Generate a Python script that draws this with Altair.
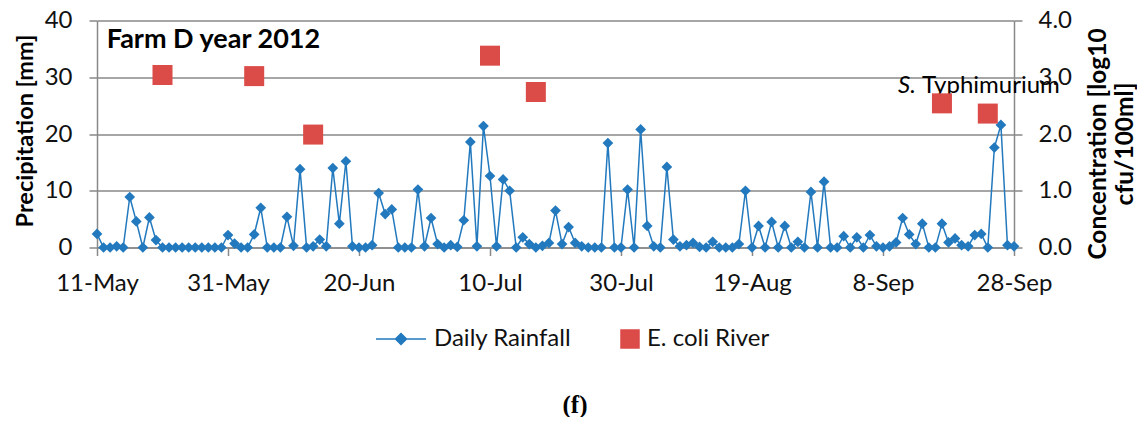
import altair as alt
import pandas as pd

# ---------------- data ----------------
START = "2012-05-11"
END = "2012-09-28"

rain = [
    2.4, 0, 0, 0.2, 0, 8.9, 4.6, 0, 5.3, 1.3,
    0, 0, 0, 0, 0, 0, 0, 0, 0, 0,
    2.2, 0.7, 0, 0, 2.3, 7.0, 0, 0, 0, 5.4,
    0.3, 13.8, 0, 0.2, 1.4, 0.2, 14.0, 4.2, 15.2, 0.2,
    0, 0, 0.4, 9.6, 5.9, 6.7, 0, 0, 0, 10.2,
    0.2, 5.2, 0.6, 0, 0.4, 0.1, 4.8, 18.6, 0.2, 21.4,
    12.6, 0.2, 12.0, 10.0, 0, 1.8, 0.6, 0, 0.3, 0.8,
    6.5, 0.6, 3.6, 0.8, 0.2, 0, 0, 0, 18.4, 0,
    0, 10.2, 0, 20.8, 3.8, 0.2, 0, 14.2, 1.4, 0.2,
    0.4, 0.8, 0.1, 0, 1.0, 0, 0, 0, 0.6, 10.0,
    0, 3.8, 0, 4.5, 0, 3.8, 0, 1.0, 0, 9.8,
    0, 11.6, 0, 0, 2.0, 0, 1.8, 0, 2.2, 0.2,
    0, 0.2, 0.9, 5.2, 2.3, 0.6, 4.2, 0, 0, 4.2,
    0.9, 1.6, 0.4, 0.2, 2.2, 2.4, 0, 17.6, 21.6, 0.4,
    0.2,
]

ecoli_dates = ["2012-05-21", "2012-06-04", "2012-06-13", "2012-07-10",
               "2012-07-17", "2012-09-17", "2012-09-24"]
ecoli_vals = [3.04, 3.02, 1.99, 3.38, 2.74, 2.54, 2.36]

tick_dates = ["2012-05-11", "2012-05-31", "2012-06-20", "2012-07-10",
              "2012-07-30", "2012-08-19", "2012-09-08", "2012-09-28"]
left_ticks = [0, 10, 20, 30, 40]
right_ticks = [0, 1, 2, 3, 4]

series = ["Daily Rainfall", "E. coli River"]
series_colors = ["#2279be", "#db4b48"]
legend_shapes = ["M-1,0H1M0,-0.22L0.22,0L0,0.22L-0.22,0Z",
                 "M0.28,-0.36H1V0.36H0.28Z"]

left_title = "Precipitation [mm]"
right_title = ["Concentration [log10", "cfu/100ml]"]
panel_title = ["Farm D year 2012"]
anno_italic = ["S."]
anno_regular = ["Typhimurium"]
panel_letter = ["(f)"]

FONT = "Lato"
GREY = "#888888"


def dt(s):
    y, m, d = (int(v) for v in s.split("-"))
    return alt.DateTime(year=y, month=m, date=d, utc=True)


rain_df = pd.DataFrame({
    "date": pd.date_range(START, periods=len(rain), freq="D").strftime("%Y-%m-%d"),
    "rain": rain,
})
ecoli_df = pd.DataFrame({"date": ecoli_dates, "conc": ecoli_vals})
legend_df = pd.DataFrame({"series": series})

x_enc = alt.X(
    "date:T",
    scale=alt.Scale(type="utc", domain=[dt(START), dt(END)], nice=False),
    axis=alt.Axis(
        values=[dt(s) for s in tick_dates], format="%-d-%b", title=None,
        grid=False, tickSize=8, labelPadding=16, domain=True,
        labelFlush=False, labelOverlap=False,
    ),
)

rain_line = alt.Chart(rain_df).mark_line(
    color=series_colors[0], strokeWidth=1.5
).encode(
    x=x_enc,
    y=alt.Y(
        "rain:Q",
        scale=alt.Scale(domain=[0, 40], nice=False),
        axis=alt.Axis(
            values=left_ticks, title=left_title, grid=True,
            tickSize=8, labelPadding=17, orient="left",
            titleFontWeight="bold", titleFontSize=23.5,
            titleX=-65, titleY=110, titleAngle=270,
            titleAlign="center", titleBaseline="alphabetic",
        ),
    ),
)

rain_pts = alt.Chart(rain_df).mark_point(
    shape="diamond", filled=True, size=115, color=series_colors[0], opacity=1
).encode(x=x_enc, y="rain:Q")

leg = alt.Legend(
    title=None, orient="none", legendX=278, legendY=292.5, direction="horizontal",
    symbolSize=2500, symbolStrokeWidth=1.5, symbolOpacity=1,
    labelFont=FONT, labelFontSize=24, labelColor="#111111", labelOffset=7,
    columnPadding=16, padding=0, labelLimit=400,
)

legend_layer = alt.Chart(legend_df).mark_point(
    filled=True, opacity=0, size=2500
).encode(
    fill=alt.Fill("series:N", scale=alt.Scale(domain=series, range=series_colors), legend=leg),
    stroke=alt.Stroke("series:N", scale=alt.Scale(domain=series, range=series_colors), legend=leg),
    shape=alt.Shape("series:N", scale=alt.Scale(domain=series, range=legend_shapes), legend=leg),
)

title_txt = alt.Chart(pd.DataFrame({"t": panel_title})).mark_text(
    font=FONT, fontSize=27, fontWeight="bold", align="left",
    baseline="alphabetic", color="#000000"
).encode(text="t:N", x=alt.value(9.7), y=alt.value(27.5))

s_txt = alt.Chart(pd.DataFrame({"t": anno_italic})).mark_text(
    font=FONT, fontSize=24, fontStyle="italic", align="left",
    baseline="alphabetic", color="#000000"
).encode(text="t:N", x=alt.value(801), y=alt.value(72.5))

typh_txt = alt.Chart(pd.DataFrame({"t": anno_regular})).mark_text(
    font=FONT, fontSize=24, align="left", baseline="alphabetic", color="#000000"
).encode(text="t:N", x=alt.value(825), y=alt.value(72.5))

f_txt = alt.Chart(pd.DataFrame({"t": panel_letter})).mark_text(
    font="Liberation Serif", fontSize=25, fontWeight="bold", align="center",
    baseline="middle", color="#000000"
).encode(text="t:N", x=alt.value(478), y=alt.value(384))

left = alt.layer(rain_line, rain_pts, legend_layer, title_txt, s_txt, typh_txt, f_txt)

right = alt.Chart(ecoli_df).mark_point(
    shape="square", filled=True, size=400, color=series_colors[1], opacity=1
).encode(
    x=x_enc,
    y=alt.Y(
        "conc:Q",
        scale=alt.Scale(domain=[0, 4], nice=False),
        axis=alt.Axis(
            values=right_ticks, format=".1f", orient="right", grid=False,
            title=right_title, titleAngle=270, titleFontWeight="bold",
            titleFontSize=24.5, titleLineHeight=27,
            titleX=91, titleY=123, titleAlign="center", titleBaseline="alphabetic",
            tickSize=8, labelPadding=16, domain=True,
        ),
    ),
)

chart = alt.layer(left, right).resolve_scale(y="independent").properties(
    width=917, height=227,
    padding={"left": 89, "top": 12.5, "right": 123, "bottom": 169.5},
    autosize="none",
).configure_view(stroke=None).configure_axis(
    gridColor=GREY, gridWidth=1.5, gridOpacity=1,
    domainColor=GREY, domainWidth=1.5,
    tickColor=GREY, tickWidth=1.5,
    labelFont=FONT, titleFont=FONT, labelFontSize=24, titleFontSize=24,
    labelColor="#111111", titleColor="#000000",
)

chart.save("out.html", embed_options={"renderer": "svg", "actions": False})
